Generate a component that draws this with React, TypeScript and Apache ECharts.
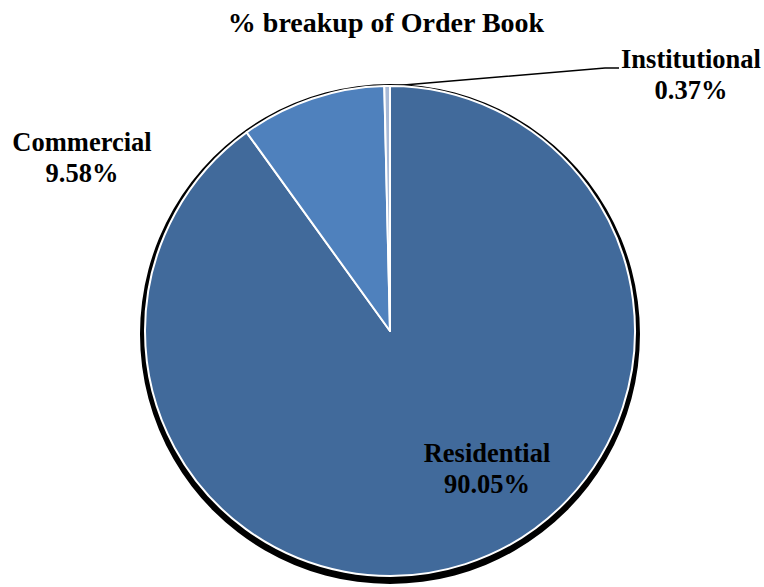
import React, { useEffect, useRef } from "react";
import * as echarts from "echarts";

const categories = ["Residential", "Commercial", "Institutional"];
const shares = [90.05, 9.58, 0.37];
const colors = ["#416A9B", "#4F81BD", "#A7B9D6"];
const titleText = "% breakup of Order Book";

export default function App() {
  const ref = useRef<HTMLDivElement>(null);
  useEffect(() => {
    if (!ref.current) return;
    const chart = echarts.init(ref.current, undefined, { renderer: "svg" });
    const font = "Liberation Serif";
    const labelPos: Record<number, any> = {
      0: { x: 487, y: 468 },
      1: { x: 82, y: 157 },
      2: { x: 691, y: 74, line: [[392, 86], [605, 68], [619, 68]] },
    };
    chart.setOption({
      animation: false,
      backgroundColor: "#ffffff",
      title: {
        text: titleText,
        left: 381,
        top: 3,
        textAlign: "center",
        textStyle: { fontFamily: font, fontWeight: "bold", fontSize: 28, color: "#000" },
      },
      series: [
        {
          type: "pie",
          silent: true,
          center: [390, 334],
          radius: 250,
          label: { show: false },
          labelLine: { show: false },
          itemStyle: { color: "#000" },
          data: [{ value: 1, name: "shadow" }],
          z: 1,
        },
        {
          type: "pie",
          center: [390, 331],
          radius: 245,
          startAngle: 90,
          clockwise: true,
          avoidLabelOverlap: false,
          z: 2,
          itemStyle: { borderColor: "#ffffff", borderWidth: 2 },
          label: {
            show: true,
            position: "outside",
            fontFamily: font,
            fontWeight: "bold",
            fontSize: 26.5,
            lineHeight: 31,
            color: "#000",
            align: "center",
            formatter: (p: any) => `${p.name}\n${Number(p.value).toFixed(2)}%`,
          },
          labelLine: { show: true, lineStyle: { color: "#000", width: 1.5 } },
          labelLayout: (p: any) => {
            const pos = labelPos[p.dataIndex];
            const out: any = { x: pos.x, y: pos.y, align: "center", verticalAlign: "middle" };
            if (pos.line) out.labelLinePoints = pos.line;
            return out;
          },
          data: categories.map((c, i) => ({
            name: c,
            value: shares[i],
            itemStyle: { color: colors[i] },
            labelLine: { show: i === 2 },
          })),
        },
      ],
    });
    return () => chart.dispose();
  }, []);
  return (
    <div
      ref={ref}
      style={{ position: "absolute", left: 0, top: 0, width: 764, height: 587 }}
    />
  );
}
